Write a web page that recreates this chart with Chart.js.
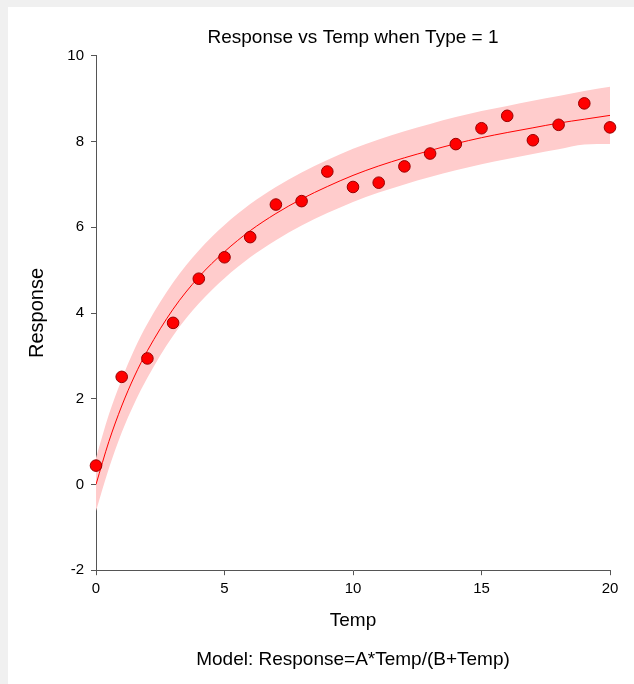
<!DOCTYPE html>
<html>
<head>
<meta charset="utf-8">
<script src="https://cdn.jsdelivr.net/npm/chart.js@4/dist/chart.umd.min.js"></script>
<style>
  html, body { margin: 0; padding: 0; background: #f0f0f0; }
  #wrap { position: absolute; left: 8px; top: 7px; width: 626px; height: 677px; background: #fff; }
  canvas { display: block; }
</style>
</head>
<body>
<div id="wrap"><canvas id="chart" width="626" height="677"></canvas></div>
<script>
const temp = [0, 1, 2, 3, 4, 5, 6, 7, 8, 9, 10, 11, 12, 13, 14, 15, 16, 17, 18, 19, 20];
const response = [0.44, 2.51, 2.94, 3.77, 4.80, 5.30, 5.77, 6.53, 6.61, 7.30, 6.94,
  7.04, 7.42, 7.72, 7.94, 8.31, 8.60, 8.03, 8.39, 8.89, 8.33];

// Fitted curve and its band
const fitTemp = [0, 0.5, 1, 1.5, 2, 3, 4, 5, 6, 7, 8, 9, 10, 11, 12, 13, 14, 15, 16, 17, 18, 19, 20];
const fitValue = [0, 1.00, 1.83, 2.53, 3.12, 4.09, 4.84, 5.43, 5.92, 6.32, 6.66, 6.95,
  7.21, 7.43, 7.62, 7.79, 7.95, 8.09, 8.21, 8.32, 8.43, 8.52, 8.61];
const bandUpper = [0.62, 1.63, 2.45, 3.16, 3.75, 4.71, 5.46, 6.05, 6.54, 6.94, 7.28, 7.57,
  7.83, 8.05, 8.24, 8.41, 8.57, 8.71, 8.83, 8.95, 9.06, 9.18, 9.28];
const bandLower = [-0.62, 0.37, 1.21, 1.90, 2.49, 3.47, 4.22, 4.81, 5.30, 5.70, 6.04, 6.33,
  6.59, 6.81, 7.00, 7.17, 7.33, 7.47, 7.59, 7.71, 7.82, 7.93, 7.94];

const xTicks = [0, 5, 10, 15, 20];
const yTicks = [-2, 0, 2, 4, 6, 8, 10];

const toPoints = (xs, ys) => xs.map((x, i) => ({x: x, y: ys[i]}));

const fontFamily = "'Liberation Sans', Arial, sans-serif";
const axisColor = '#555';

new Chart('chart', {
  type: 'scatter',
  data: {
    datasets: [
      {
        label: 'Response',
        data: toPoints(temp, response),
        backgroundColor: '#ff0000',
        borderColor: '#990000',
        borderWidth: 1,
        pointRadius: 5.8,
        clip: false,
        order: 0
      },
      {
        label: 'Fit',
        data: toPoints(fitTemp, fitValue),
        showLine: true,
        borderColor: '#ff0000',
        borderWidth: 1,
        pointRadius: 0,
        cubicInterpolationMode: 'monotone',
        order: 1
      },
      {
        label: 'Upper',
        data: toPoints(fitTemp, bandUpper),
        showLine: true,
        borderWidth: 0,
        borderColor: 'rgba(0,0,0,0)',
        backgroundColor: '#ffcccc',
        pointRadius: 0,
        cubicInterpolationMode: 'monotone',
        fill: '+1',
        order: 2
      },
      {
        label: 'Lower',
        data: toPoints(fitTemp, bandLower),
        showLine: true,
        borderWidth: 0,
        borderColor: 'rgba(0,0,0,0)',
        pointRadius: 0,
        cubicInterpolationMode: 'monotone',
        fill: false,
        order: 3
      }
    ]
  },
  options: {
    responsive: false,
    animation: false,
    layout: { padding: { left: 0, right: 24, top: 0, bottom: 13 } },
    plugins: {
      legend: { display: false },
      tooltip: { enabled: false },
      title: {
        display: true,
        fullSize: false,
        text: 'Response vs Temp when Type = 1',
        color: '#000',
        font: { family: fontFamily, size: 19, weight: 'normal' },
        padding: { top: 19, bottom: 7 }
      },
      subtitle: {
        display: true,
        fullSize: false,
        position: 'bottom',
        text: 'Model: Response=A*Temp/(B+Temp)',
        color: '#000',
        font: { family: fontFamily, size: 19, weight: 'normal' },
        padding: { top: 0, bottom: 0 }
      }
    },
    scales: {
      x: {
        type: 'linear',
        min: 0,
        max: 20,
        afterFit: scale => { scale.height = 78; },
        afterBuildTicks: scale => { scale.ticks = xTicks.map(v => ({value: v})); },
        ticks: { color: '#000', padding: 5, font: { family: fontFamily, size: 15 } },
        grid: { drawOnChartArea: false, drawTicks: true, tickLength: 5, color: axisColor },
        border: { display: true, color: axisColor, width: 1 },
        title: {
          display: true,
          text: 'Temp',
          color: '#000',
          font: { family: fontFamily, size: 19 },
          padding: { top: 0, bottom: 16 }
        }
      },
      y: {
        type: 'linear',
        min: -2,
        max: 10,
        afterFit: scale => { scale.width = 88; },
        afterBuildTicks: scale => { scale.ticks = yTicks.map(v => ({value: v})); },
        ticks: { color: '#000', padding: 7, font: { family: fontFamily, size: 15 } },
        grid: { drawOnChartArea: false, drawTicks: true, tickLength: 5, color: axisColor },
        border: { display: true, color: axisColor, width: 1 },
        title: {
          display: true,
          text: 'Response',
          color: '#000',
          font: { family: fontFamily, size: 20 },
          padding: { top: 17, bottom: 0 }
        }
      }
    }
  }
});
</script>
</body>
</html>
